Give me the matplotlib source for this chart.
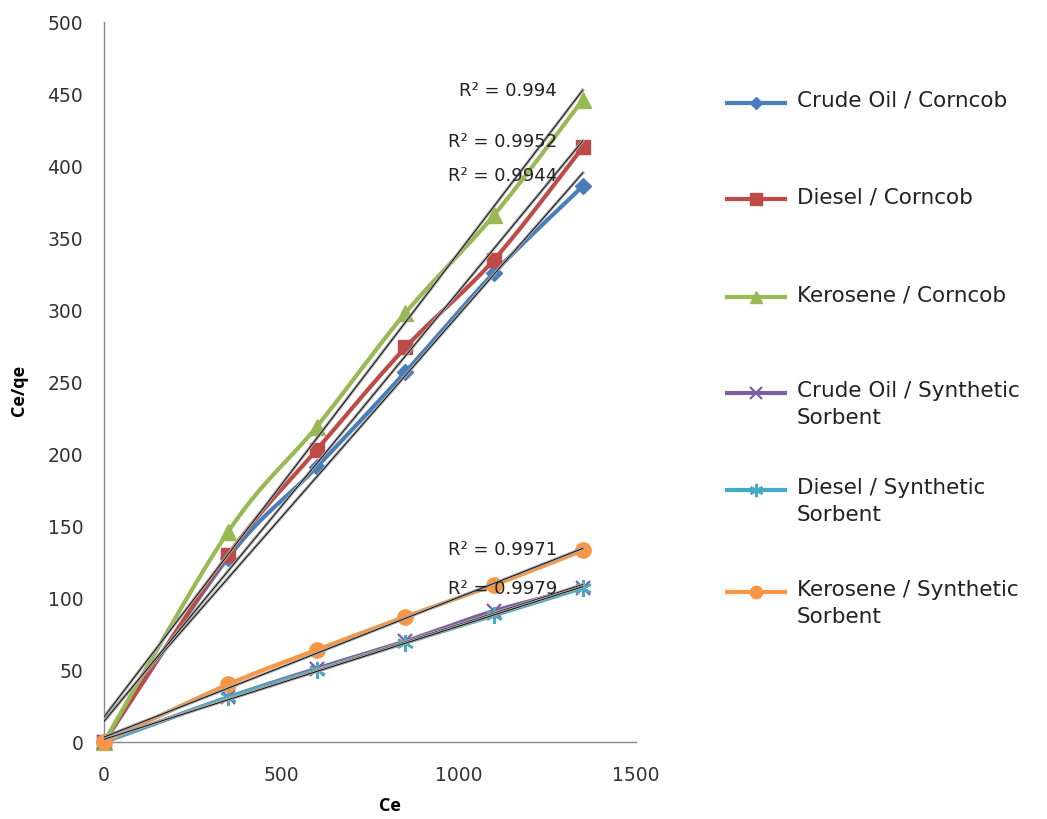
import numpy as np
import matplotlib
matplotlib.use("Agg")
import matplotlib.pyplot as plt
import matplotlib.patheffects as pe
from matplotlib.lines import Line2D

# ---- data ----
ce = [0, 350, 600, 850, 1100, 1350]
crude_corncob = [0, 128, 191, 257, 326, 386]
diesel_corncob = [0, 130, 203, 274, 335, 413]
kerosene_corncob = [0, 146, 219, 298, 366, 446]
crude_synthetic = [0, 31, 51, 70, 91, 107]
diesel_synthetic = [0, 31, 50, 69, 88, 107]
kerosene_synthetic = [0, 40, 64, 87, 109, 133]

labels = ["Crude Oil / Corncob", "Diesel / Corncob", "Kerosene / Corncob",
          "Crude Oil / Synthetic\nSorbent", "Diesel / Synthetic\nSorbent",
          "Kerosene / Synthetic\nSorbent"]
r2_labels = ["R² = 0.9944", "R² = 0.9952", "R² = 0.994",
             None, "R² = 0.9979", "R² = 0.9971"]

series = [crude_corncob, diesel_corncob, kerosene_corncob,
          crude_synthetic, diesel_synthetic, kerosene_synthetic]
colors = ["#4A7EBB", "#BE4B48", "#98B954", "#7D60A0", "#46AAC5", "#F79646"]
markers = ["D", "s", "^", "x", (6, 2, 0), "o"]
msizes = [8, 10, 11, 10, 12, 11]

plt.rcParams['font.family'] = ['DejaVu Sans']

W, H = 1047, 819
fig = plt.figure(figsize=(W / 100, H / 100), dpi=100)
ax = fig.add_axes([104 / W, 1 - 742 / H, 532 / W, 720 / H])


def smooth(x, y, n=30):
    x = np.asarray(x, float); y = np.asarray(y, float)
    P = np.column_stack([x, y])
    out = []
    for i in range(len(P) - 1):
        p0 = P[i - 1] if i > 0 else P[i]
        p1 = P[i]; p2 = P[i + 1]
        p3 = P[i + 2] if i + 2 < len(P) else P[i + 1]
        c1 = p1 + (p2 - p0) / 6.0
        c2 = p2 - (p3 - p1) / 6.0
        t = np.linspace(0, 1, n)[:, None]
        seg = ((1 - t) ** 3) * p1 + 3 * ((1 - t) ** 2) * t * c1 + 3 * (1 - t) * t ** 2 * c2 + t ** 3 * p2
        out.append(seg if i == 0 else seg[1:])
    s = np.vstack(out)
    return s[:, 0], s[:, 1]


for y, c, m, ms in zip(series, colors, markers, msizes):
    sx, sy = smooth(ce, y)
    ax.plot(sx, sy, color=c, lw=3.0, zorder=3, clip_on=False, solid_capstyle='round')
    mew = 1.6 if not isinstance(m, str) or m == "x" else 1.0
    ax.plot(ce, y, linestyle='none', marker=m, color=c, ms=ms, mew=mew,
            zorder=4, clip_on=False)

# linear trendlines
xs = np.array(ce, float)
for y in series:
    k, b = np.polyfit(xs, np.asarray(y, float), 1)
    xx = np.array([0, 1350])
    ax.plot(xx, k * xx + b, color='black', lw=0.6, zorder=5,
            path_effects=[pe.Stroke(linewidth=2.2, foreground='#a8a8a8'), pe.Normal()])

# R² labels (data coords)
r2_pos = {0: (1277, 393), 1: (1277, 417), 2: (1277, 452), 4: (1277, 106), 5: (1277, 133)}
for i, (xp, yp) in r2_pos.items():
    ax.text(xp, yp, r2_labels[i], ha='right', va='center', fontsize=13,
            color='#222222', zorder=6)

ax.set_xlim(0, 1500)
ax.set_ylim(0, 500)
ax.set_xticks([0, 500, 1000, 1500])
ax.set_yticks(np.arange(0, 501, 50))
for s in ("top", "right"):
    ax.spines[s].set_visible(False)
for s in ("left", "bottom"):
    ax.spines[s].set_color('#888888')
    ax.spines[s].set_linewidth(1.0)
ax.tick_params(length=0, labelsize=13.5, colors='#333333')
ax.tick_params(axis='x', pad=17)
ax.tick_params(axis='y', pad=15)
ax.set_xlabel("Ce", fontsize=13, fontweight='bold', family='Open Sans')
ax.set_ylabel("Ce/qe", fontsize=13, fontweight='bold', family='Open Sans')
ax.xaxis.set_label_coords((390 - 104) / 532, (742 - 797) / 720)
ax.yaxis.set_label_coords((28 - 104) / 532, (742 - 390) / 720)

# legend (drawn manually to match layout)
leg_y = [103, 199, 297, 393, 490, 592]
for lab, c, m, ms, yy in zip(labels, colors, markers, msizes, leg_y):
    mew = 1.6 if not isinstance(m, str) or m == "x" else 1.0
    fy = 1 - yy / H
    fig.add_artist(Line2D([727 / W, 785 / W], [fy, fy], color=c, lw=3.0,
                          transform=fig.transFigure))
    fig.add_artist(Line2D([756 / W], [fy], color=c, marker=m, ms=ms * 0.8, mew=mew,
                          transform=fig.transFigure))
    fig.text(797 / W, fy + 12 / H, lab, ha='left', va='top', fontsize=15.5,
             color='#222222', linespacing=1.45)

fig.savefig("out.png", dpi=100, facecolor='white')
